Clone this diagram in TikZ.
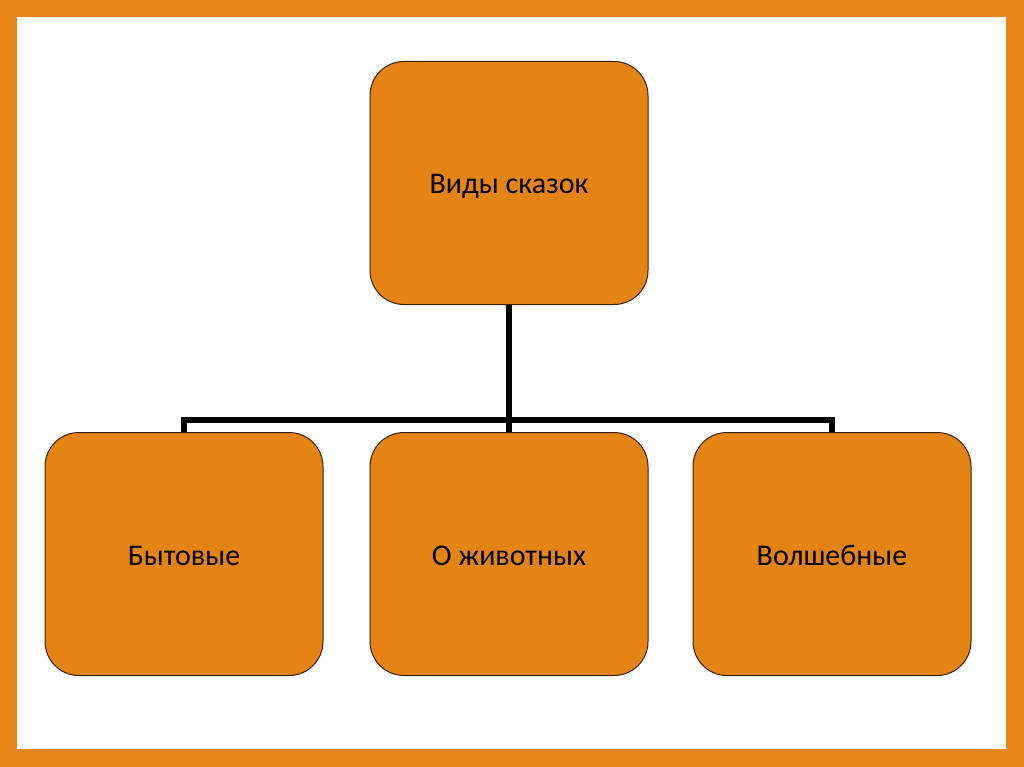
\documentclass[tikz,border=0pt]{standalone}
\usepackage{fontspec}
\setmainfont{Carlito}
\definecolor{orng}{HTML}{E38414}
\definecolor{frame}{HTML}{E8861A}
\definecolor{edge}{HTML}{3A2008}
\begin{document}
\begin{tikzpicture}[x=1pt,y=-1pt,
  box/.style={draw=edge,line width=1pt,fill=orng,rounded corners=34pt,minimum width=278pt,minimum height=243pt,font=\fontsize{30}{36}\selectfont,text=black,text height=22pt,text depth=0pt},
  conn/.style={line width=5.5pt,draw=black}]
\fill[frame] (0,0) rectangle (1024,767);
\fill[white] (17,17) rectangle (1006,749);
\useasboundingbox (0,0) rectangle (1024,767);
\node[box] (top) at (509,183) {Виды сказок};
\node[box] (b1) at (184,554) {Бытовые};
\node[box] (b2) at (509,554) {О животных};
\node[box] (b3) at (832,554) {Волшебные};
\coordinate (j) at (509,420);
\draw[conn] (top.south) -- (b2.north);
\draw[conn] (b1.north) |- (j) -| (b3.north);
\end{tikzpicture}
\end{document}
